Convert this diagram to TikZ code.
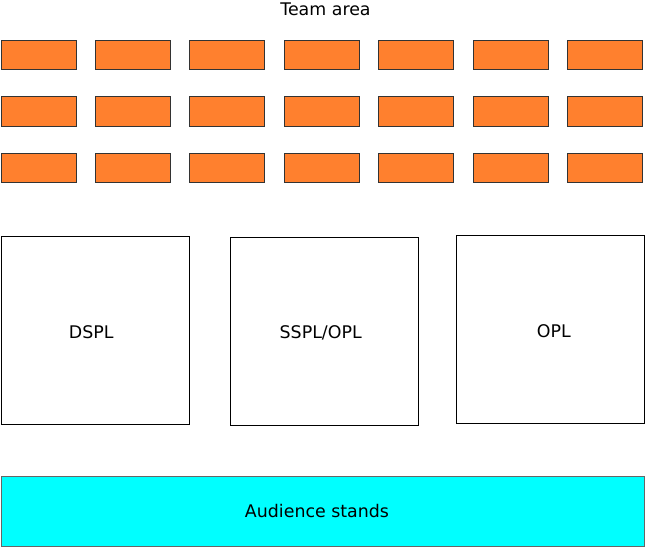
\documentclass[tikz,border=0pt]{standalone}
\usepackage{fontspec}
\setmainfont{DejaVu Sans}
\usepackage{tikz}
\usetikzlibrary{positioning}

\definecolor{deskorange}{HTML}{FF802E}
\definecolor{standcyan}{HTML}{00FFFF}
\tikzset{
  desk/.style={draw=black!80, fill=deskorange, line width=1pt, minimum width=75pt, minimum height=29.5pt, inner sep=0pt},
  field/.style={draw=black, fill=white, line width=1pt, minimum width=188pt, minimum height=188pt, inner sep=0pt},
  stands/.style={draw=black!60, fill=standcyan, line width=1pt, minimum width=643pt, minimum height=70pt, inner sep=0pt},
  areatext/.style={font=\fontsize{17.4}{20}\selectfont, inner sep=0pt}
}

\begin{document}
\begin{tikzpicture}[x=1pt, y=-1pt]
\useasboundingbox (0, 0) rectangle (646, 548);
\node[anchor=base, areatext] (team_area) at (325.5, 15.8) {Team area};
% team desks, row 1
\node[desk] (d1_1) at (38.5, 54.8) {};
\node[desk] (d1_2) at (132.9, 54.8) {};
\node[desk] (d1_3) at (227.3, 54.8) {};
\node[desk] (d1_4) at (321.7, 54.8) {};
\node[desk] (d1_5) at (416.1, 54.8) {};
\node[desk] (d1_6) at (510.5, 54.8) {};
\node[desk] (d1_7) at (604.9, 54.8) {};
% row 2
\node[desk] (d2_1) at (38.5, 111.5) {};
\node[desk] (d2_2) at (132.9, 111.5) {};
\node[desk] (d2_3) at (227.3, 111.5) {};
\node[desk] (d2_4) at (321.7, 111.5) {};
\node[desk] (d2_5) at (416.1, 111.5) {};
\node[desk] (d2_6) at (510.5, 111.5) {};
\node[desk] (d2_7) at (604.9, 111.5) {};
% row 3
\node[desk] (d3_1) at (38.5, 168.2) {};
\node[desk] (d3_2) at (132.9, 168.2) {};
\node[desk] (d3_3) at (227.3, 168.2) {};
\node[desk] (d3_4) at (321.7, 168.2) {};
\node[desk] (d3_5) at (416.1, 168.2) {};
\node[desk] (d3_6) at (510.5, 168.2) {};
\node[desk] (d3_7) at (604.9, 168.2) {};
% competition fields
\node[field, label={[areatext, xshift=-4pt, yshift=-1.5pt]center:DSPL}] (dspl) at (95.2, 330.5) {};
\node[field, label={[areatext, xshift=-4pt, yshift=-1.5pt]center:SSPL/OPL}] (sspl) at (324.7, 331.7) {};
\node[field, label={[areatext, xshift=3pt, yshift=-1.5pt]center:OPL}] (opl) at (550.8, 329.9) {};
\node[stands, label={[areatext, xshift=-5.5pt]center:Audience stands}] (audience) at (322.5, 511) {};
\end{tikzpicture}
\end{document}
